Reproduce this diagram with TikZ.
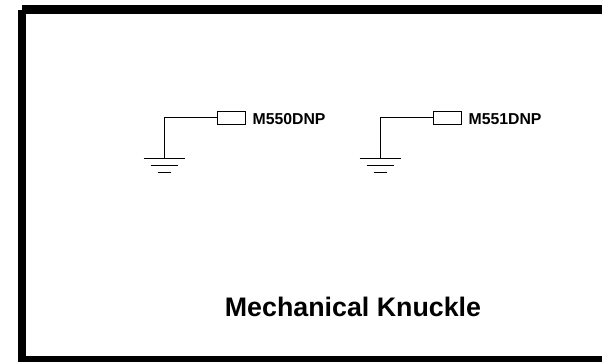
\documentclass[tikz,border=0pt]{standalone}
\usepackage{fontspec}
\setmainfont{Liberation Sans}
\usetikzlibrary{positioning}
\begin{document}
\begin{tikzpicture}[x=1pt, y=-1pt, node distance=7pt,
    pad node/.style={rectangle, draw, line width=0.9pt, minimum width=28pt, minimum height=13pt, inner sep=0pt},
    part label/.style={font=\fontsize{15.8}{18}\selectfont\bfseries, inner sep=0pt},
    title label/.style={font=\fontsize{26.8}{30}\selectfont\bfseries, inner sep=0pt}]
    \useasboundingbox (0,0) rectangle (602,362);
    
    % outer border
    \fill (22,5) rectangle (602,14);
    \fill (18,10) rectangle (26,362);
    \fill (18,356) rectangle (602,362);
    
    \node[pad node] (pad1) at (231,117.5) {};
    \node[part label, right=7pt of pad1, yshift=-1.5pt] (lab1) {M550DNP};
    \coordinate (gnd1) at (164,158);
    
    \node[pad node] (pad2) at (447,117.5) {};
    \node[part label, right=7pt of pad2, yshift=-1.5pt] (lab2) {M551DNP};
    \coordinate (gnd2) at (380,158);
    
    \node[title label] (title) at (353,307) {Mechanical Knuckle};
    
    \path[draw, line width=0.9pt]
      (pad1.west) -| (gnd1)
      (pad2.west) -| (gnd2);
    
    % ground symbols
    \draw[line width=0.9pt] ([xshift=-20.5pt]gnd1) -- ([xshift=20.5pt]gnd1);
    \draw[line width=0.9pt] ([shift={(-13.5,7)}]gnd1) -- ([shift={(13.5,7)}]gnd1);
    \draw[line width=0.9pt] ([shift={(-6.5,14)}]gnd1) -- ([shift={(6.5,14)}]gnd1);
    
    \draw[line width=0.9pt] ([xshift=-20.5pt]gnd2) -- ([xshift=20.5pt]gnd2);
    \draw[line width=0.9pt] ([shift={(-13.5,7)}]gnd2) -- ([shift={(13.5,7)}]gnd2);
    \draw[line width=0.9pt] ([shift={(-6.5,14)}]gnd2) -- ([shift={(6.5,14)}]gnd2);
\end{tikzpicture}
\end{document}
